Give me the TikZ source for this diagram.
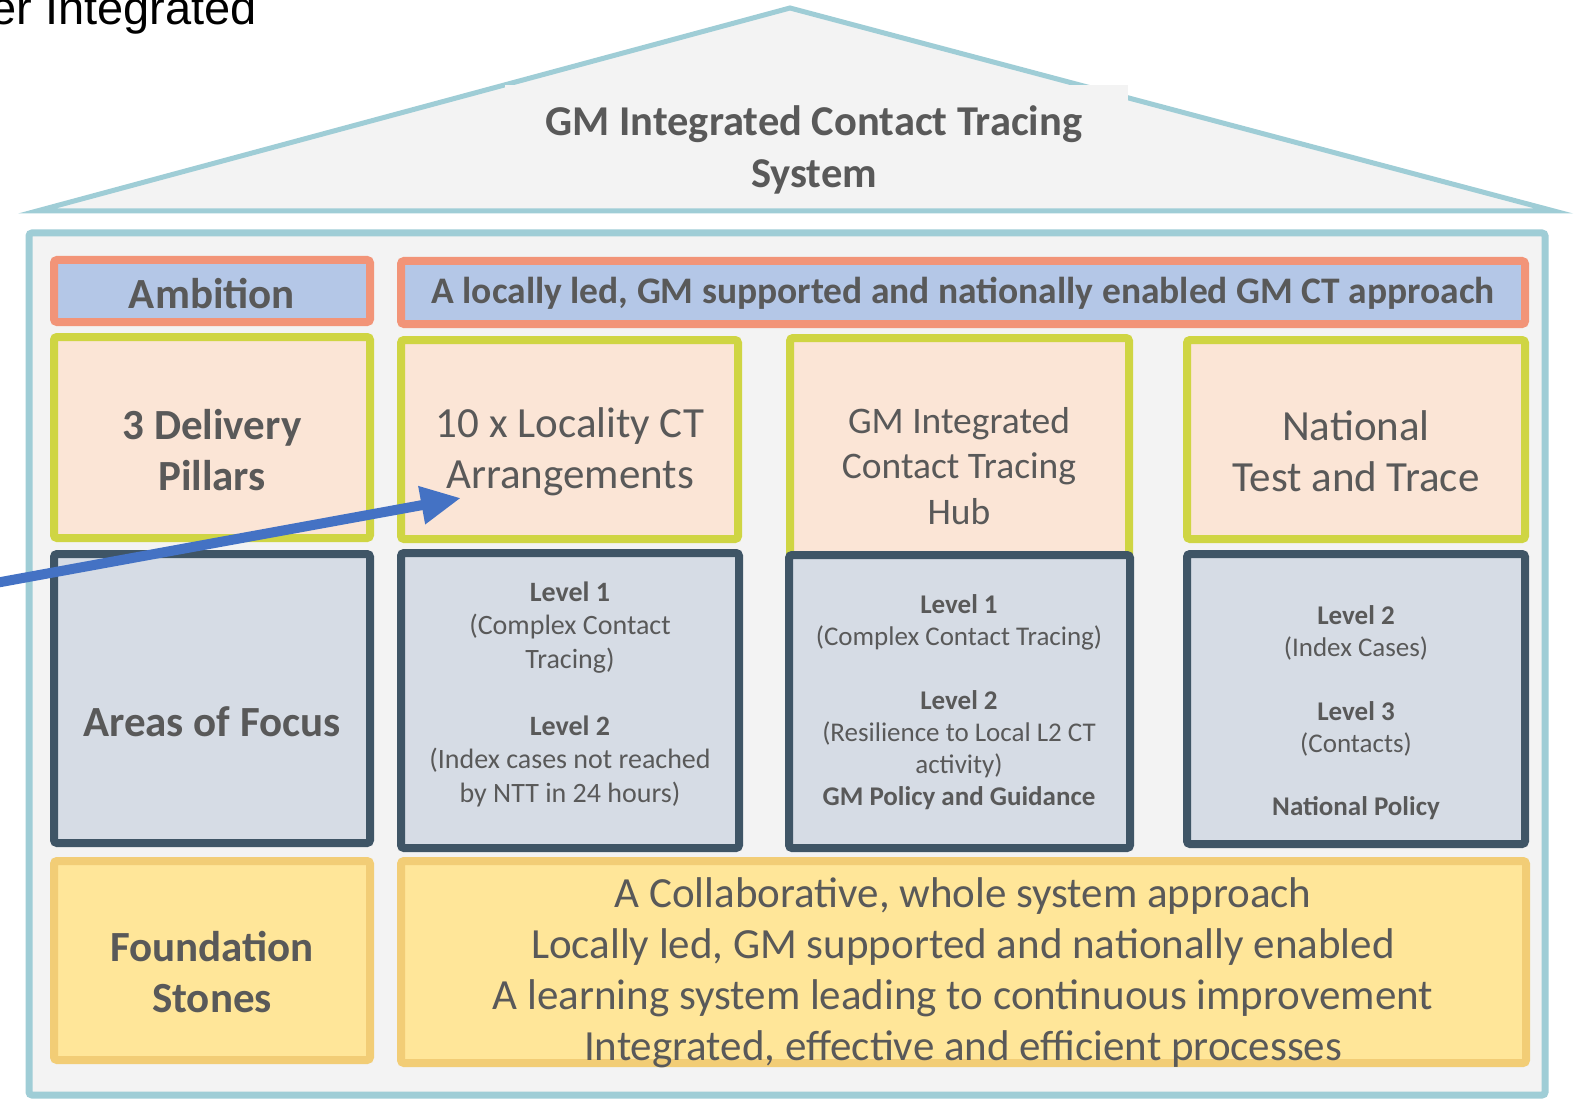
\documentclass[tikz,border=0pt]{standalone}
\usepackage{fontspec}
\setmainfont{Carlito}
\newfontfamily\arialfont{Liberation Sans}
\usetikzlibrary{arrows.meta}

\definecolor{roofline}{HTML}{9FCDD6}
\definecolor{housefill}{HTML}{F3F3F3}
\definecolor{ambfill}{HTML}{B4C7E7}
\definecolor{ambline}{HTML}{F29478}
\definecolor{pillarfill}{HTML}{FBE5D6}
\definecolor{pillarline}{HTML}{CFD543}
\definecolor{focusfill}{HTML}{D6DCE5}
\definecolor{focusline}{HTML}{3F5566}
\definecolor{stonefill}{HTML}{FFE699}
\definecolor{stoneline}{HTML}{F2CD76}
\definecolor{txtgray}{HTML}{595959}
\definecolor{arrowblue}{HTML}{4472C4}

\tikzset{
  boxbase/.style={rectangle,rounded corners=3pt,line width=8pt,inner sep=0pt},
  ambbox/.style={boxbase,fill=ambfill,draw=ambline},
  pillarbox/.style={boxbase,fill=pillarfill,draw=pillarline},
  focusbox/.style={boxbase,fill=focusfill,draw=focusline},
  stonebox/.style={boxbase,fill=stonefill,draw=stoneline},
  txt/.style={text=txtgray,align=center,inner sep=0pt},
  bigbold/.style={txt,font=\fontsize{43}{51}\selectfont\bfseries},
  big/.style={txt,font=\fontsize{43}{51}\selectfont},
  small/.style={txt,font=\fontsize{28}{33.5}\selectfont},
  smaller/.style={txt,font=\fontsize{27}{32}\selectfont},
}

\begin{document}
\begin{tikzpicture}[x=1pt,y=-1pt,line join=miter]
\useasboundingbox[fill=white] (0,0) rectangle (1576,1099);
%%
\node (node_caption) at (257,25) [anchor=base east,inner sep=0pt,font=\arialfont\fontsize{47}{54}\selectfont] {er Integrated};
%% roof
\draw [fill=housefill,draw=roofline,line width=5pt] (37,211) -- (790,8) -- (1554,211) -- cycle;
\node (node_title) at (816.5,144) [fill=housefill,minimum width=623pt,minimum height=118pt,inner sep=0pt] {};
\node (txt_title) at (814,150) [txt,font=\fontsize{42.5}{52}\selectfont\bfseries] {GM Integrated Contact Tracing\\System};
%% house
\draw [fill=housefill,draw=roofline,line width=7pt,rounded corners=3pt] (29,233) rectangle (1545,1095);
%% ambition
\node (node_amb_l) at (212,291) [ambbox,minimum width=316pt,minimum height=62pt] {};
\node (node_amb_r) at (963,292.5) [ambbox,minimum width=1124pt,minimum height=63pt] {};
%% pillars
\node (node_pil_l) at (212,437.5) [pillarbox,minimum width=316pt,minimum height=201pt] {};
\node (node_pil_a) at (569.5,439.5) [pillarbox,minimum width=337pt,minimum height=199pt] {};
\node (node_pil_b) at (959.5,466) [pillarbox,minimum width=339pt,minimum height=256pt] {};
\node (node_pil_c) at (1356,439.5) [pillarbox,minimum width=338pt,minimum height=199pt] {};
%% focus
\node (node_foc_l) at (212,698.5) [focusbox,minimum width=316pt,minimum height=289pt] {};
\node (node_foc_a) at (570,700.5) [focusbox,minimum width=338pt,minimum height=295pt] {};
\node (node_foc_b) at (959.5,701.5) [focusbox,minimum width=341pt,minimum height=293pt] {};
\node (node_foc_c) at (1356,699) [focusbox,minimum width=338pt,minimum height=290pt] {};
%% foundation
\node (node_stone_l) at (212,960.5) [stonebox,minimum width=316pt,minimum height=199pt] {};
\node (node_stone_r) at (963.5,962) [stonebox,minimum width=1125pt,minimum height=202pt] {};
%% texts
\node (txt_amb_l) at (212,294) [bigbold] {Ambition};
\node (txt_amb_r) at (963,293) [txt,font=\fontsize{37.5}{44}\selectfont\bfseries] {A locally led, GM supported and nationally enabled GM CT approach};
\node (txt_pil_l) at (212,450) [bigbold] {3 Delivery\\Pillars};
\node (txt_pil_a) at (570,452) [big] {10 x Locality CT\\Arrangements};
\node (txt_pil_b) at (959,466) [txt,font=\fontsize{37.5}{45.5}\selectfont] {GM Integrated\\Contact Tracing\\Hub};
\node (txt_pil_c) at (1356,451) [big] {National\\Test and Trace};
\node (txt_foc_l) at (212,722) [bigbold] {Areas of Focus};
\node (txt_foc_a) at (570,694) [small] {{\bfseries Level 1}\\(Complex Contact\\Tracing)\\[33.5pt]{\bfseries Level 2}\\(Index cases not reached\\by NTT in 24 hours)};
\node (txt_foc_b) at (959,702) [smaller] {{\bfseries Level 1}\\(Complex Contact Tracing)\\[32pt]{\bfseries Level 2}\\(Resilience to Local L2 CT\\activity)\\{\bfseries GM Policy and Guidance}};
\node (txt_foc_c) at (1356,713) [smaller] {{\bfseries Level 2}\\(Index Cases)\\[32pt]{\bfseries Level 3}\\(Contacts)\\[31pt]{\bfseries National Policy}};
\node (txt_stone_l) at (212,972) [bigbold] {Foundation\\Stones};
\node (txt_stone_r) at (963,973) [big] {A Collaborative, whole system approach\\Locally led, GM supported and nationally enabled\\A learning system leading to continuous improvement\\Integrated, effective and efficient processes};
%% arrow
\coordinate (arrow_start) at (-10,584);
\coordinate (arrow_tip) at (461,498);
\draw [arrowblue,line width=10pt,-{Triangle[length=40pt,width=36pt]}] (arrow_start) -- (arrow_tip);
%
\end{tikzpicture}
\end{document}
